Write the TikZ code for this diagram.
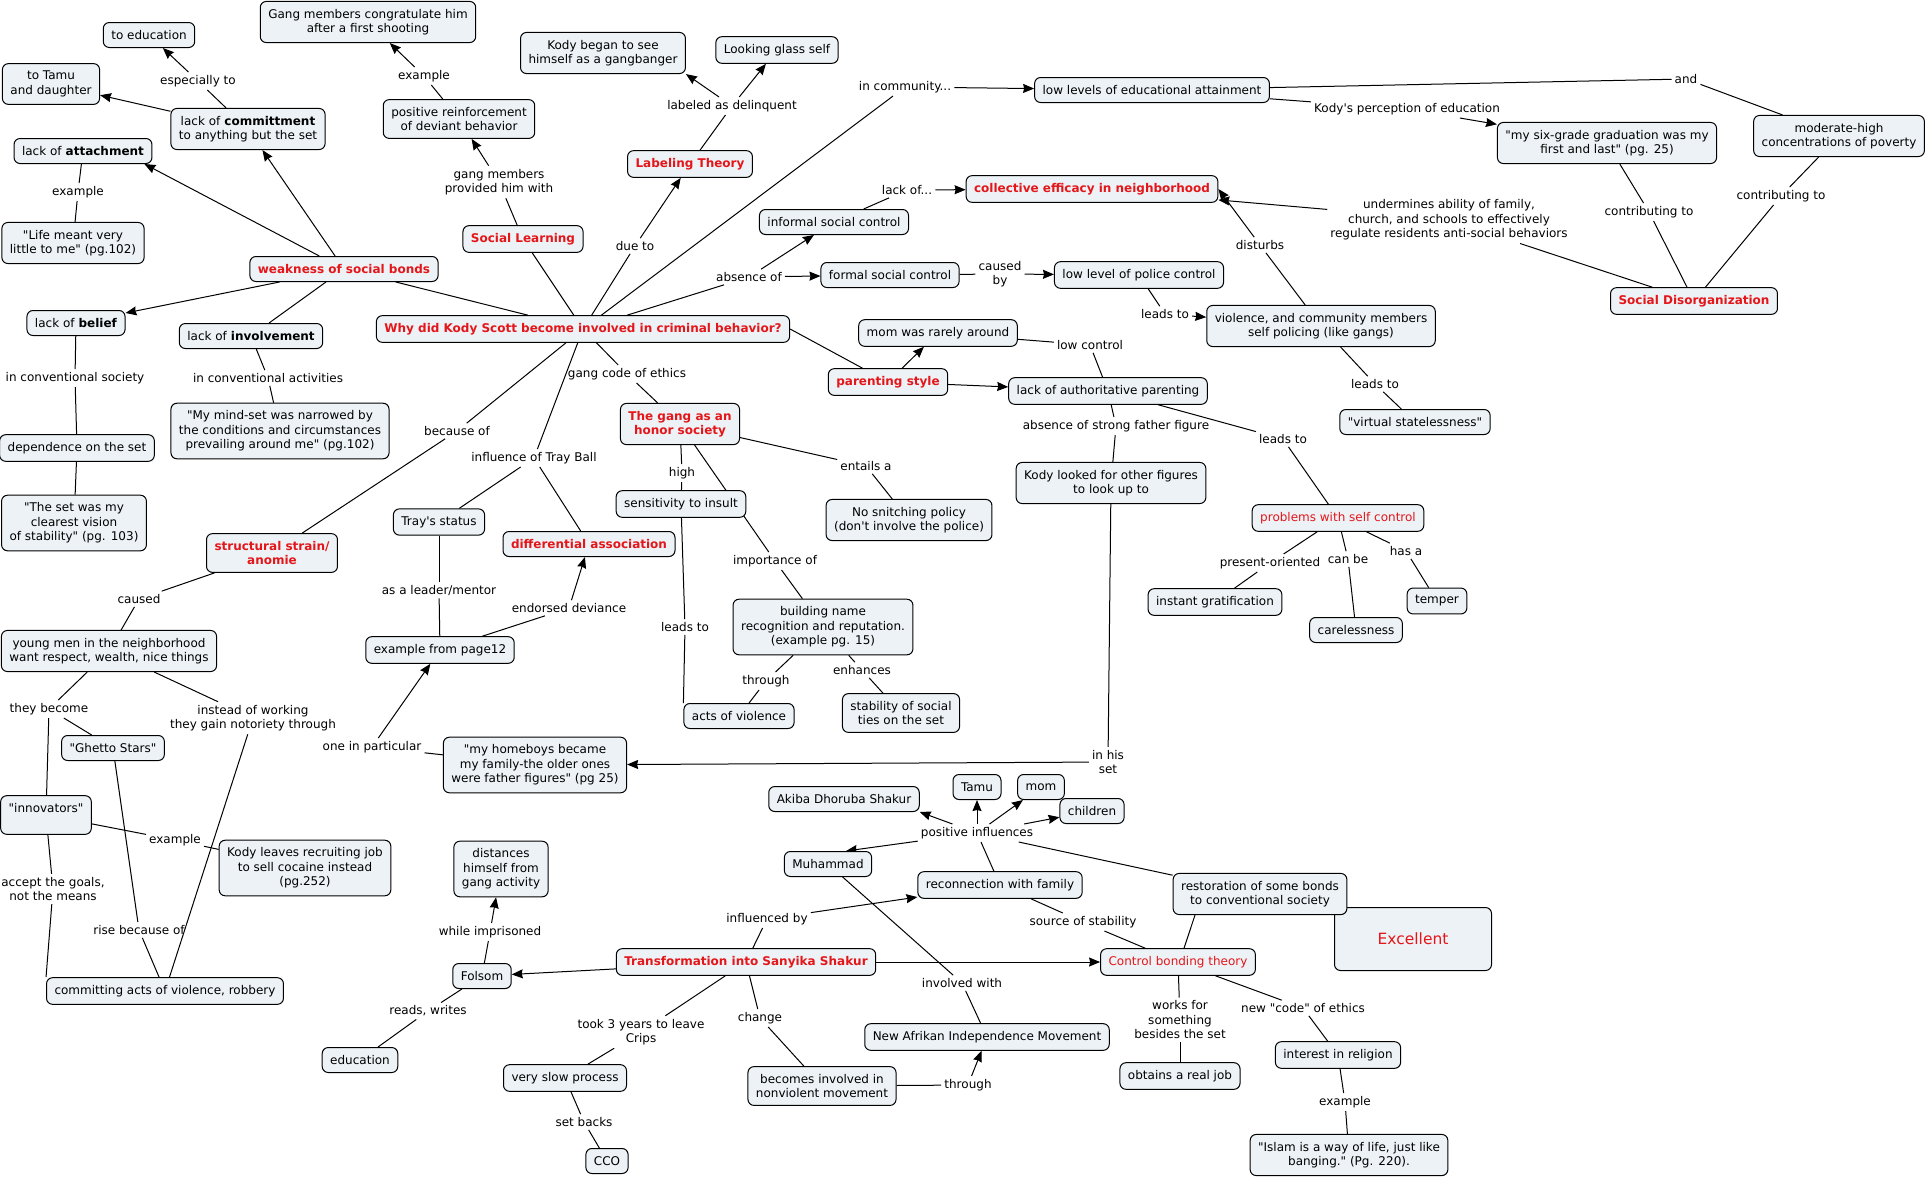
\documentclass[tikz,border=0pt]{standalone}
\usepackage{fontspec}
\setmainfont{DejaVu Sans}[Ligatures=TeXOff]
\usepackage{tikz}
\usetikzlibrary{arrows.meta}
\usetikzlibrary{backgrounds}
\definecolor{cmapfill}{RGB}{236,242,245}
\definecolor{cmapred}{RGB}{228,22,26}

\begin{document}
\begin{tikzpicture}[
      x=1pt, y=-1pt,
      block/.style ={rectangle, rounded corners=6pt, draw=black, line width=1pt, fill=cmapfill, align=center, inner xsep=8pt, inner ysep=7.5pt, minimum height=25pt, font=\fontsize{12}{14.5}\selectfont},
      theory/.style ={block, text=cmapred, font=\fontsize{12}{14.5}\selectfont\bfseries},
      redblock/.style ={block, text=cmapred},
      phrase/.style ={inner sep=3pt, align=center, font=\fontsize{12}{14.5}\selectfont},
      conn/.style ={line width=1pt},
      connto/.style ={conn, -{Stealth[length=11pt, width=9pt, inset=1pt]}}
    ]
    \useasboundingbox (0,0) rectangle (1927,1178) ;

    \node [block] (edu) at (149,35) {to education} ;
    \node [block] (gangcong) at (368,22) {Gang members congratulate him\\after a first shooting} ;
    \node [block] (tamu) at (51,84) {to Tamu\\and daughter} ;
    \node [block] (commit) at (248,129) {lack of \textbf{committment}\\to anything but the set} ;
    \node [block] (posrein) at (459,119) {positive reinforcement\\of deviant behavior} ;
    \node [block] (gangbanger) at (603,53) {Kody began to see\\himself as a gangbanger} ;
    \node [block] (glass) at (777,50) {Looking glass self} ;
    \node [block] (attach) at (83,151) {lack of \textbf{attachment}} ;
    \node [block] (life) at (73,243) {"Life meant very\\little to me" (pg.102)} ;
    \node [theory] (labeling) at (690,164) {Labeling Theory} ;
    \node [theory] (social) at (523,239) {Social Learning} ;
    \node [theory] (weak) at (344,269) {weakness of social bonds} ;
    \node [block] (belief) at (76,323) {lack of \textbf{belief}} ;
    \node [block] (involve) at (251,336) {lack of \textbf{involvement}} ;
    \node [theory] (why) at (583,329) {Why did Kody Scott become involved in criminal behavior?} ;
    \node [block] (depend) at (77,448) {dependence on the set} ;
    \node [block] (mindset) at (280,431) {"My mind-set was narrowed by\\the conditions and circumstances\\prevailing around me" (pg.102)} ;
    \node [block] (setvision) at (74,523) {"The set was my\\clearest vision\\of stability" (pg. 103)} ;
    \node [theory] (strain) at (272,553) {structural strain/\\anomie} ;
    \node [block] (tray) at (439,522) {Tray's status} ;
    \node [theory] (diffasso) at (589,544) {differential association} ;
    \node [theory] (honor) at (680,424) {The gang as an\\honor society} ;
    \node [block] (insult) at (681,504) {sensitivity to insult} ;
    \node [block] (lowedu) at (1152,90) {low levels of educational attainment} ;
    \node [theory] (collective) at (1092,189) {collective efficacy in neighborhood} ;
    \node [block] (informal) at (834,222) {informal social control} ;
    \node [block] (formal) at (890,275) {formal social control} ;
    \node [block] (police) at (1139,275) {low level of police control} ;
    \node [block] (violence) at (1321,326) {violence, and community members\\self policing (like gangs)} ;
    \node [block] (momrare) at (938,333) {mom was rarely around} ;
    \node [theory] (parent) at (888,382) {parenting style} ;
    \node [block] (authpar) at (1108,391) {lack of authoritative parenting} ;
    \node [block] (snitch) at (909,520) {No snitching policy\\(don't involve the police)} ;
    \node [block] (figures) at (1111,483) {Kody looked for other figures\\to look up to} ;
    \node [redblock] (selfctrl) at (1338,518) {problems with self control} ;
    \node [block] (instant) at (1215,602) {instant gratification} ;
    \node [block] (gradq) at (1607,143) {"my six-grade graduation was my\\first and last" (pg. 25)} ;
    \node [block] (poverty) at (1839,136) {moderate-high\\concentrations of poverty} ;
    \node [theory] (socdis) at (1694,301) {Social Disorganization} ;
    \node [block] (stateless) at (1415,422) {"virtual statelessness"} ;
    \node [block] (temper) at (1437,601) {temper} ;
    \node [block] (careless) at (1356,630) {carelessness} ;
    \node [block] (page12) at (440,650) {example from page12} ;
    \node [block] (young) at (109,651) {young men in the neighborhood\\want respect, wealth, nice things} ;
    \node [block] (ghetto) at (113,748) {"Ghetto Stars"} ;
    \node [block] (homeboys) at (535,765) {"my homeboys became\\my family-the older ones\\were father figures" (pg 25)} ;
    \node [block] (innov) at (46,815) {"innovators"\\ \mbox{}} ;
    \node [block] (cocaine) at (305,868) {Kody leaves recruiting job\\to sell cocaine instead\\(pg.252)} ;
    \node [block] (commitviol) at (165,991) {committing acts of violence, robbery} ;
    \node [block] (distance) at (501,869) {distances\\himself from\\gang activity} ;
    \node [block] (folsom) at (482,976) {Folsom} ;
    \node [block] (education) at (360,1060) {education} ;
    \node [block] (slow) at (565,1078) {very slow process} ;
    \node [block] (cco) at (607,1161) {CCO} ;
    \node [theory] (transf) at (746,962) {Transformation into Sanyika Shakur} ;
    \node [block] (building) at (823,627) {building name\\recognition and reputation.\\(example pg. 15)} ;
    \node [block] (actsviol) at (739,716) {acts of violence} ;
    \node [block] (ties) at (901,713) {stability of social\\ties on the set} ;
    \node [block] (akiba) at (844,799) {Akiba Dhoruba Shakur} ;
    \node [block] (tamutwo) at (977,787) {Tamu} ;
    \node [block] (mom) at (1041,787) {mom} ;
    \node [block] (children) at (1092,811) {children} ;
    \node [block] (muhammad) at (828,864) {Muhammad} ;
    \node [block] (reconn) at (1000,885) {reconnection with family} ;
    \node [block, text=cmapred, font=\fontsize{15.5}{18}\selectfont, minimum width=157pt, minimum height=63pt] (excellent) at (1413,939) {Excellent} ;
    \node [block] (restore) at (1260,894) {restoration of some bonds\\to conventional society} ;
    \node [redblock] (ctrlbond) at (1178,962) {Control bonding theory} ;
    \node [block] (newafrikan) at (987,1037) {New Afrikan Independence Movement} ;
    \node [block] (nonviol) at (822,1086) {becomes involved in\\nonviolent movement} ;
    \node [block] (realjob) at (1180,1076) {obtains a real job} ;
    \node [block] (religion) at (1338,1055) {interest in religion} ;
    \node [block] (islam) at (1349,1155) {"Islam is a way of life, just like\\banging." (Pg. 220).} ;

    \node [phrase] (especially) at (198,81) {especially to} ;
    \node [phrase] (exgang) at (424,76) {example} ;
    \node [phrase] (exlife) at (78,192) {example} ;
    \node [phrase] (provided) at (499,182) {gang members\\provided him with} ;
    \node [phrase] (dueto) at (635,246) {due to} ;
    \node [phrase] (labeled) at (732,106) {labeled as delinquent} ;
    \node [phrase] (community) at (905,87) {in community...} ;
    \node [phrase] (and) at (1686,79) {and} ;
    \node [phrase] (perception) at (1407,109) {Kody's perception of education} ;
    \node [phrase] (contriba) at (1649,212) {contributing to} ;
    \node [phrase] (contribb) at (1781,196) {contributing to} ;
    \node [phrase] (undermines) at (1449,220) {undermines ability of family,\\church, and schools to effectively\\regulate residents anti-social behaviors} ;
    \node [phrase] (disturbs) at (1260,245) {disturbs} ;
    \node [phrase] (lackof) at (907,190) {lack of...} ;
    \node [phrase] (absence) at (749,277) {absence of} ;
    \node [phrase] (causedby) at (1000,274) {caused\\by} ;
    \node [phrase] (leadsviol) at (1165,314) {leads to} ;
    \node [phrase] (leadsstate) at (1375,384) {leads to} ;
    \node [phrase] (lowctrl) at (1090,345) {low control} ;
    \node [phrase] (father) at (1116,426) {absence of strong father figure} ;
    \node [phrase] (leadsself) at (1283,439) {leads to} ;
    \node [phrase] (present) at (1270,563) {present-oriented} ;
    \node [phrase] (canbe) at (1348,559) {can be} ;
    \node [phrase] (hasa) at (1406,551) {has a} ;
    \node [phrase] (codeeth) at (627,374) {gang code of ethics} ;
    \node [phrase] (high) at (682,473) {high} ;
    \node [phrase] (importance) at (775,561) {importance of} ;
    \node [phrase] (entails) at (866,466) {entails a} ;
    \node [phrase] (leadsacts) at (685,627) {leads to} ;
    \node [phrase] (througha) at (766,681) {through} ;
    \node [phrase] (enhances) at (862,670) {enhances} ;
    \node [phrase] (because) at (457,431) {because of} ;
    \node [phrase] (trayball) at (534,458) {influence of Tray Ball} ;
    \node [phrase] (mentor) at (439,590) {as a leader/mentor} ;
    \node [phrase] (endorsed) at (569,608) {endorsed deviance} ;
    \node [phrase] (particular) at (372,747) {one in particular} ;
    \node [phrase] (causedb) at (139,599) {caused} ;
    \node [phrase] (become) at (49,709) {they become} ;
    \node [phrase] (instead) at (253,718) {instead of working\\they gain notoriety through} ;
    \node [phrase] (rise) at (139,930) {rise because of} ;
    \node [phrase] (accept) at (53,889) {accept the goals,\\not the means} ;
    \node [phrase] (excoca) at (175,840) {example} ;
    \node [phrase] (convsoc) at (75,378) {in conventional society} ;
    \node [phrase] (convact) at (268,378) {in conventional activities} ;
    \node [phrase] (hisset) at (1108,762) {in his\\set} ;
    \node [phrase] (imprisoned) at (490,932) {while imprisoned} ;
    \node [phrase] (reads) at (428,1011) {reads, writes} ;
    \node [phrase] (influenced) at (767,919) {influenced by} ;
    \node [phrase] (took) at (641,1032) {took 3 years to leave\\Crips} ;
    \node [phrase] (setbacks) at (584,1122) {set backs} ;
    \node [phrase] (change) at (760,1018) {change} ;
    \node [phrase] (throughb) at (968,1085) {through} ;
    \node [phrase] (involved) at (962,983) {involved with} ;
    \node [phrase] (positive) at (977,833) {positive influences} ;
    \node [phrase] (source) at (1083,922) {source of stability} ;
    \node [phrase] (works) at (1180,1020) {works for\\something\\besides the set} ;
    \node [phrase] (newcode) at (1303,1008) {new "code" of ethics} ;
    \node [phrase] (exislam) at (1345,1102) {example} ;

    \begin{pgfonlayer}{background}
    \fill [white] (0,0) rectangle (1927,1178) ;
    \draw [connto] (weak) -- (commit) ;
    \draw [connto] (weak) -- ([xshift=-8pt]attach.south east) ;
    \draw [connto] (weak) -- (belief) ;
    \draw [conn] (weak) -- (involve) ;
    \draw [conn] (weak) -- (why) ;
    \draw [conn] (commit) -- (especially) ;
    \draw [connto] (especially) -- (edu) ;
    \draw [connto] (commit) -- (tamu) ;
    \draw [conn] (posrein) -- (exgang) ;
    \draw [connto] (exgang) -- (gangcong) ;
    \draw [conn] (social) -- (provided) ;
    \draw [connto] (provided) -- (posrein) ;
    \draw [conn] (why) -- (social) ;
    \draw [conn] (why) -- (dueto) ;
    \draw [connto] (dueto) -- (labeling) ;
    \draw [conn] (labeling) -- (labeled) ;
    \draw [connto] (labeled) -- (gangbanger.south east) ;
    \draw [connto] (labeled) -- (glass) ;
    \draw [conn] (why) -- (community) ;
    \draw [connto] (community) -- (lowedu) ;
    \draw [conn] (lowedu) -- (and) ;
    \draw [conn] (and) -- (poverty) ;
    \draw [conn] (lowedu) -- (perception) ;
    \draw [connto] (perception) -- (gradq) ;
    \draw [conn] (gradq) -- (contriba) ;
    \draw [conn] (contriba) -- (socdis) ;
    \draw [conn] (poverty) -- (contribb) ;
    \draw [conn] (contribb) -- (socdis) ;
    \draw [conn] (socdis) -- (undermines) ;
    \draw [connto] (undermines) -- (collective) ;
    \draw [conn] (violence) -- (disturbs) ;
    \draw [connto] (disturbs) -- (collective.east) ;
    \draw [conn] (why) -- (absence) ;
    \draw [connto] (absence) -- (informal) ;
    \draw [connto] (absence) -- (formal) ;
    \draw [conn] (informal) -- (lackof) ;
    \draw [connto] (lackof) -- (collective) ;
    \draw [conn] (formal) -- (causedby) ;
    \draw [connto] (causedby) -- (police) ;
    \draw [conn] (police) -- (leadsviol) ;
    \draw [connto] (leadsviol) -- (violence) ;
    \draw [conn] (violence) -- (leadsstate) ;
    \draw [conn] (leadsstate) -- (stateless) ;
    \draw [conn] (why.east) -- (parent) ;
    \draw [connto] (parent) -- (momrare) ;
    \draw [connto] (parent) -- (authpar) ;
    \draw [conn] (momrare) -- (lowctrl) ;
    \draw [conn] (lowctrl) -- (authpar) ;
    \draw [conn] (authpar) -- (father) ;
    \draw [conn] (father) -- (figures) ;
    \draw [conn] (authpar) -- (leadsself) ;
    \draw [conn] (leadsself) -- (selfctrl) ;
    \draw [conn] (figures) -- (hisset) ;
    \draw [connto] (hisset) -- (homeboys) ;
    \draw [conn] (selfctrl) -- (present) ;
    \draw [conn] (present) -- (instant) ;
    \draw [conn] (selfctrl) -- (canbe) ;
    \draw [conn] (canbe) -- (careless) ;
    \draw [conn] (selfctrl) -- (hasa) ;
    \draw [conn] (hasa) -- (temper) ;
    \draw [conn] (why) -- (codeeth) ;
    \draw [conn] (codeeth) -- (honor) ;
    \draw [conn] (honor) -- (high) ;
    \draw [conn] (high) -- (insult) ;
    \draw [conn] (honor) -- (importance) ;
    \draw [conn] (importance) -- (building) ;
    \draw [conn] (honor) -- (entails) ;
    \draw [conn] (entails) -- (snitch) ;
    \draw [conn] (insult) -- (leadsacts) ;
    \draw [conn] (leadsacts) -- (actsviol.north west) ;
    \draw [conn] (building) -- (througha) ;
    \draw [conn] (througha) -- (actsviol) ;
    \draw [conn] (building) -- (enhances) ;
    \draw [conn] (enhances) -- (ties) ;
    \draw [conn] (why) -- (because) ;
    \draw [conn] (because) -- (strain) ;
    \draw [conn] (why) -- (trayball) ;
    \draw [conn] (trayball) -- (tray) ;
    \draw [conn] (trayball) -- (diffasso) ;
    \draw [conn] (tray) -- (mentor) ;
    \draw [conn] (mentor) -- (page12) ;
    \draw [conn] (page12) -- (endorsed) ;
    \draw [connto] (endorsed) -- (diffasso) ;
    \draw [conn] (homeboys) -- (particular) ;
    \draw [connto] (particular) -- (page12) ;
    \draw [conn] (strain) -- (causedb) ;
    \draw [conn] (causedb) -- (young) ;
    \draw [conn] (young) -- (become) ;
    \draw [conn] (become) -- (ghetto) ;
    \draw [conn] (become) -- (innov) ;
    \draw [conn] (young) -- (instead) ;
    \draw [conn] (instead) -- (commitviol) ;
    \draw [conn] (ghetto) -- (rise) ;
    \draw [conn] (rise) -- (commitviol) ;
    \draw [conn] (innov) -- (accept) ;
    \draw [conn] (accept) -- (commitviol.north west) ;
    \draw [conn] (innov) -- (excoca) ;
    \draw [conn] (excoca) -- (cocaine) ;
    \draw [conn] (attach) -- (exlife) ;
    \draw [conn] (exlife) -- (life) ;
    \draw [conn] (belief) -- (convsoc) ;
    \draw [conn] (convsoc) -- (depend) ;
    \draw [conn] (depend) -- (setvision) ;
    \draw [conn] (involve) -- (convact) ;
    \draw [conn] (convact) -- (mindset) ;
    \draw [connto] (transf) -- (folsom) ;
    \draw [conn] (folsom) -- (imprisoned) ;
    \draw [connto] (imprisoned) -- (distance) ;
    \draw [conn] (folsom) -- (reads) ;
    \draw [conn] (reads) -- (education) ;
    \draw [conn] (transf) -- (influenced) ;
    \draw [connto] (influenced) -- (reconn) ;
    \draw [connto] (transf) -- (ctrlbond) ;
    \draw [conn] (transf) -- (took) ;
    \draw [conn] (took) -- (slow) ;
    \draw [conn] (slow) -- (setbacks) ;
    \draw [conn] (setbacks) -- (cco) ;
    \draw [conn] (transf) -- (change) ;
    \draw [conn] (change) -- (nonviol) ;
    \draw [conn] (nonviol) -- (throughb) ;
    \draw [connto] (throughb) -- (newafrikan) ;
    \draw [conn] (muhammad) -- (involved) ;
    \draw [conn] (involved) -- (newafrikan) ;
    \draw [conn] (reconn) -- (positive) ;
    \draw [connto] (positive) -- (akiba.south east) ;
    \draw [connto] (positive) -- (tamutwo) ;
    \draw [connto] (positive) -- (mom) ;
    \draw [connto] (positive) -- (children) ;
    \draw [connto] (positive) -- ([xshift=18pt]muhammad.north) ;
    \draw [conn] (positive) -- (restore) ;
    \draw [conn] (ctrlbond) -- (source) ;
    \draw [conn] (source) -- (reconn) ;
    \draw [conn] ([xshift=6pt]ctrlbond.north) -- ([xshift=-65pt]restore.south) ;
    \draw [conn] (ctrlbond) -- (works) ;
    \draw [conn] (works) -- (realjob) ;
    \draw [conn] (ctrlbond) -- (newcode) ;
    \draw [conn] (newcode) -- (religion) ;
    \draw [conn] (religion) -- (exislam) ;
    \draw [conn] (exislam) -- (islam) ;
    \end{pgfonlayer}
  \end{tikzpicture}
\end{document}
